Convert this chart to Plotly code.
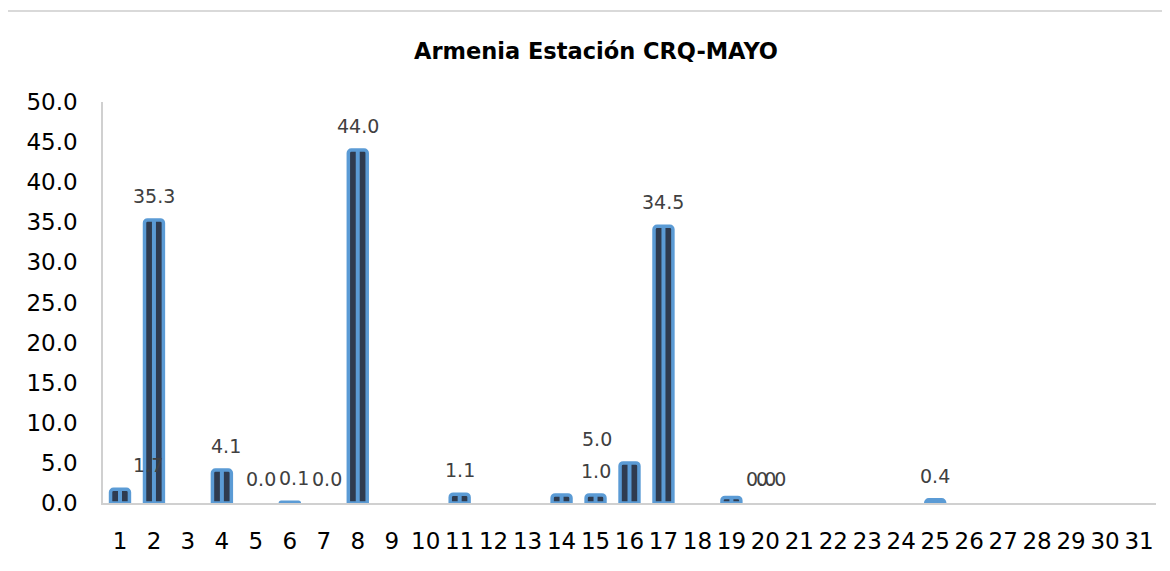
import plotly.graph_objects as go

# ---- data ----
days = list(range(1, 32))
day_labels = [str(d) for d in days]
values = [1.7, 35.3, None, 4.1, 0.0, 0.1, 0.0, 44.0, None, None,
          1.1, None, None, 1.0, 1.0, 5.0, 34.5, None, 0.7, 0.0,
          0.0, None, None, None, 0.4, None, None, None, None, None, None]
labelled_days = [1, 2, 4, 5, 6, 7, 8, 11, 15, 16, 17, 20, 21, 25]
title_text = "Armenia Estación CRQ-MAYO"
y_ticks = [0, 5, 10, 15, 20, 25, 30, 35, 40, 45, 50]

# ---- styling ----
BLUE = "#5b9bd5"
DARK = "#2f3b4f"
FONT = "DejaVu Sans"
label_xshift = {1: 28, 4: 4, 5: 5, 6: 4, 7: 3, 16: -33, 20: -4, 21: -28}

# zero-height bars are not drawn (only their labels)
bar_values = [v if v else None for v in values]

fig = go.Figure()
fig.add_trace(go.Bar(
    x=days, y=bar_values, width=0.556,
    marker=dict(color=DARK, line=dict(color=BLUE, width=3.5), cornerradius=3),
    hoverinfo="skip",
))
fig.add_trace(go.Bar(
    x=days, y=bar_values, width=0.118,
    marker=dict(color=BLUE, line=dict(width=0)),
    hoverinfo="skip",
))

for d in labelled_days:
    v = values[d - 1]
    fig.add_annotation(
        x=d, y=v, text=f"{v:.1f}", showarrow=False,
        xshift=label_xshift.get(d, 0), yshift=24,
        font=dict(family=FONT, size=19, color="#404040"),
        xanchor="center", yanchor="middle",
    )

# outer chart frame
fig.add_shape(type="rect", xref="paper", yref="paper",
              x0=-0.0921, x1=1.03, y0=-0.25, y1=1.227,
              line=dict(color="#d9d9d9", width=2), fillcolor="rgba(0,0,0,0)", layer="below")

fig.update_layout(
    width=1170, height=571,
    margin=dict(l=95, r=22, t=94, b=76),
    paper_bgcolor="white", plot_bgcolor="white",
    barmode="overlay", showlegend=False,
    title=dict(text=title_text, x=588 / 1170, xanchor="center",
               y=1 - 43 / 571, yanchor="middle",
               font=dict(family=FONT, size=22.5, color="#000000", weight="bold")),
    font=dict(family=FONT),
)
fig.update_xaxes(
    range=[0.5, 31.5], tickvals=days, ticktext=day_labels,
    showgrid=False, zeroline=False, showline=True, linecolor="#d0d0d0", linewidth=1.5,
    ticks="", ticklabelstandoff=17,
    tickfont=dict(family=FONT, size=23, color="#000000"),
)
fig.update_yaxes(
    range=[0, 50], tickvals=y_ticks, ticktext=[f"{t:.1f}" for t in y_ticks],
    showgrid=False, zeroline=False, showline=True, linecolor="#d0d0d0", linewidth=1.5,
    ticks="", ticklabelstandoff=19,
    tickfont=dict(family=FONT, size=23, color="#000000"),
)

fig.write_html("out.html")
